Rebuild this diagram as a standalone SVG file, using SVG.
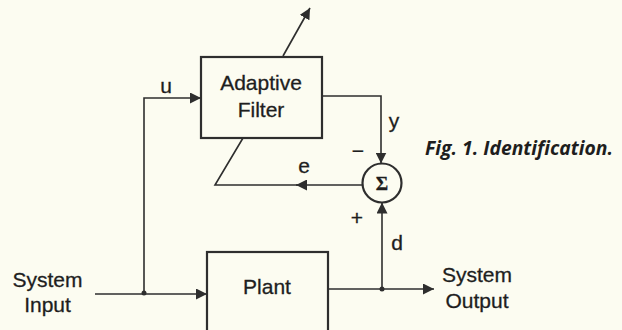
<svg xmlns="http://www.w3.org/2000/svg" width="622" height="330" viewBox="0 0 622 330">
<defs>
<style>
.ln{fill:none;stroke:#2e2e2e;stroke-width:1.6}
.bx{fill:none;stroke:#2e2e2e;stroke-width:2.2}
.t{font-family:"Liberation Sans",Arial,sans-serif;font-size:21px;fill:#1e1e1e;text-anchor:middle;stroke:#1e1e1e;stroke-width:0.3}
.cap{font-family:"Open Sans","Noto Sans",sans-serif;font-size:20px;font-style:italic;font-weight:bold;fill:#1e1e1e}
</style>
<marker id="ah" viewBox="0 0 10 10" refX="10" refY="5" markerWidth="11" markerHeight="11" markerUnits="userSpaceOnUse" orient="auto">
<path d="M0,0 L10,5 L0,10 Z" fill="#2e2e2e"/>
</marker>
</defs>
<rect width="622" height="330" fill="#fcfcf1"/>
<g id="adaptive-filter">
<rect class="bx" x="201" y="57" width="121" height="81"/>
<text class="t" x="261" y="90">Adaptive</text>
<text class="t" x="261" y="117">Filter</text>
</g>
<g id="plant">
<rect class="bx" x="207" y="252" width="121" height="80"/>
<text class="t" x="267" y="294">Plant</text>
</g>
<g id="sum">
<circle cx="382" cy="183" r="19.5" fill="none" stroke="#2e2e2e" stroke-width="2.2"/>
<text class="t" x="382" y="190" style="font-weight:bold;font-family:'Liberation Serif',serif;font-size:19px">Σ</text>
</g>
<g id="connectors">
<path class="ln" d="M283,56 L310,8" marker-end="url(#ah)"/>
<path class="ln" d="M144,293 L144,98 L201,98" marker-end="url(#ah)"/>
<path class="ln" d="M95,294 L207,294" marker-end="url(#ah)"/>
<path class="ln" d="M322,96 L381,96 L381,163.5" marker-end="url(#ah)"/>
<path class="ln" d="M362.5,185 L296,185"  marker-end="url(#ah)"/>
<path class="ln" d="M300,185 L215,185 L243,138"/>
<path class="ln" d="M328,289 L434,289" marker-end="url(#ah)"/>
<path class="ln" d="M382,289 L382,202.5" marker-end="url(#ah)"/>
<circle cx="144" cy="293" r="2.5" fill="#2e2e2e"/>
<circle cx="382" cy="289" r="2.5" fill="#2e2e2e"/>
</g>
<g id="labels">
<text class="t" x="166" y="93">u</text>
<text class="t" x="394" y="128">y</text>
<text class="t" x="358" y="158">−</text>
<text class="t" x="304" y="173">e</text>
<text class="t" x="357" y="225">+</text>
<text class="t" x="397" y="250">d</text>
<text class="t" x="47.5" y="287">System</text>
<text class="t" x="47.5" y="312">Input</text>
<text class="t" x="477" y="282">System</text>
<text class="t" x="477" y="308">Output</text>
<text class="cap" x="425" y="155" textLength="188" lengthAdjust="spacingAndGlyphs">Fig. 1. Identification.</text>
</g>
</svg>
